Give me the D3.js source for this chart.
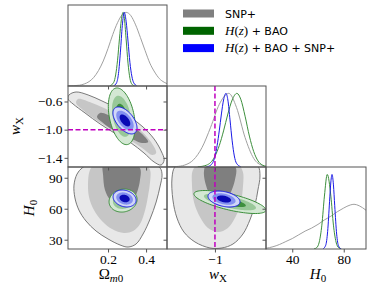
<!DOCTYPE html>
<html>
<head>
<meta charset="utf-8">
<script src="https://cdn.jsdelivr.net/npm/d3@7"></script>
<style>
  body { margin: 0; background: #fff; }
  svg { display: block; }
  .tick text { font-family: "Liberation Serif", "DejaVu Serif", serif; font-size: 13.5px; fill: #000; }
</style>
</head>
<body>
<svg id="chart" width="374" height="291"></svg>
<script>
// tick values
const omegaTicks = [0.2, 0.4];
const wTicks = [-0.6, -1.0, -1.4];
const wBottomTicks = [-1];
const h0Ticks = [30, 60, 90];
const h0BottomTicks = [40, 80];
const wReference = -1;

const legendLabels = ["SNP+", "H(z) + BAO", "H(z) + BAO + SNP+"];
const legendColors = ["#808080", "#006400", "#0000ff"];

// 1D marginals [value, relative density]
const omGray = [[-0.01,0.001],[0.05,0.011],[0.075,0.028],[0.10,0.059],[0.125,0.117],[0.15,0.21],[0.175,0.34],[0.20,0.51],[0.225,0.70],[0.25,0.86],[0.275,0.97],[0.295,1],[0.32,0.955],[0.345,0.83],[0.37,0.66],[0.395,0.48],[0.42,0.31],[0.445,0.19],[0.47,0.10],[0.495,0.051],[0.51,0.032]];
const omGreen = [[0.21,0.003],[0.23,0.05],[0.24,0.15],[0.25,0.35],[0.26,0.64],[0.27,0.90],[0.279,1],[0.285,0.94],[0.295,0.64],[0.305,0.31],[0.315,0.106],[0.325,0.026],[0.34,0.002]];
const omBlue = [[0.23,0.003],[0.245,0.044],[0.255,0.17],[0.265,0.46],[0.275,0.82],[0.285,1],[0.295,0.88],[0.305,0.61],[0.315,0.32],[0.325,0.135],[0.335,0.044],[0.35,0.005]];

const wGray = [[-1.557,0.001],[-1.45,0.006],[-1.35,0.027],[-1.25,0.097],[-1.15,0.265],[-1.05,0.54],[-0.95,0.85],[-0.84,1],[-0.75,0.81],[-0.65,0.40],[-0.55,0.117],[-0.45,0.02],[-0.407,0.008]];
const wGreen = [[-1.2,0.002],[-1.1,0.024],[-1.0,0.146],[-0.95,0.29],[-0.9,0.49],[-0.85,0.72],[-0.8,0.91],[-0.745,1],[-0.7,0.92],[-0.65,0.69],[-0.6,0.42],[-0.55,0.21],[-0.5,0.083],[-0.45,0.027],[-0.4,0.007]];
const wBlue = [[-1.1,0.002],[-1.05,0.024],[-1.0,0.144],[-0.975,0.29],[-0.95,0.49],[-0.925,0.72],[-0.9,0.91],[-0.872,1],[-0.85,0.91],[-0.825,0.64],[-0.8,0.355],[-0.775,0.15],[-0.75,0.051],[-0.7,0.003]];

const h0Gray = [[19.6,0.01],[25,0.03],[30,0.06],[35,0.1],[40,0.14],[45,0.19],[50,0.24],[55,0.28],[60,0.33],[65,0.39],[70,0.44],[75,0.5],[80,0.55],[85,0.59],[88,0.6],[92,0.58],[97.3,0.52]];
const h0Green = [[57,0.002],[59,0.018],[61,0.095],[63,0.32],[65,0.71],[67.2,1],[70,0.71],[72,0.32],[74,0.095],[76,0.018],[78,0.002]];
const h0Blue = [[64,0.003],[66,0.05],[67.5,0.236],[69,0.64],[70,0.9],[70.9,1],[72,0.86],[73,0.58],[74.5,0.2],[76,0.039],[78,0.002]];

// SNP+ 2D regions, outer (99.7%) -> inner (68%)
const omWGray = [
  [[-0.005,-0.507],[0.032,-0.465],[0.095,-0.507],[0.168,-0.592],[0.242,-0.692],[0.316,-0.820],[0.384,-0.962],[0.442,-1.132],[0.479,-1.302],[0.495,-1.430],[0.479,-1.502],[0.442,-1.459],[0.389,-1.331],[0.321,-1.189],[0.242,-1.061],[0.158,-0.919],[0.079,-0.763],[0.016,-0.635],[-0.0105,-0.564]],
  [[0.042,-0.564],[0.116,-0.621],[0.2,-0.720],[0.289,-0.848],[0.368,-1.004],[0.426,-1.175],[0.453,-1.331],[0.432,-1.359],[0.379,-1.260],[0.305,-1.132],[0.221,-1.004],[0.137,-0.862],[0.068,-0.720],[0.032,-0.621]],
  [[0.158,-0.763],[0.237,-0.834],[0.316,-0.933],[0.379,-1.061],[0.411,-1.175],[0.379,-1.189],[0.305,-1.104],[0.226,-1.004],[0.168,-0.891],[0.142,-0.820]]
];
const omHGray = [
  [[0.105,103.3],[0.063,99.4],[0.037,93.6],[0.021,82.9],[0.026,70.4],[0.047,58.7],[0.084,48.1],[0.137,38.4],[0.2,30.7],[0.263,24.9],[0.305,22.9],[0.347,25.8],[0.384,35.5],[0.421,50.0],[0.453,66.5],[0.474,82.0],[0.484,92.6],[0.474,99.4],[0.432,103.3],[0.263,105.2]],
  [[0.132,103.3],[0.105,97.5],[0.095,85.8],[0.1,71.3],[0.126,58.7],[0.168,48.1],[0.221,40.3],[0.284,36.5],[0.332,38.4],[0.368,45.2],[0.395,58.7],[0.411,73.3],[0.421,85.8],[0.421,97.5],[0.395,103.3],[0.263,105.2]],
  [[0.174,102.3],[0.174,92.6],[0.184,78.1],[0.211,68.4],[0.247,62.6],[0.289,61.6],[0.326,66.5],[0.353,76.2],[0.368,87.8],[0.368,99.4],[0.316,105.2],[0.211,105.2]]
];
const wHGray = [
  [[-1.348,104.2],[-1.465,100.4],[-1.499,89.7],[-1.488,68.4],[-1.441,51.0],[-1.360,37.4],[-1.232,27.8],[-1.058,22.0],[-0.919,22.0],[-0.791,25.8],[-0.675,35.5],[-0.594,49.1],[-0.535,63.6],[-0.501,78.1],[-0.477,91.7],[-0.501,101.3],[-0.652,105.2],[-1.0,106.2]],
  [[-1.174,104.2],[-1.256,97.5],[-1.267,82.9],[-1.244,66.5],[-1.174,52.0],[-1.081,41.3],[-0.965,37.4],[-0.849,41.3],[-0.756,52.9],[-0.698,66.5],[-0.675,81.0],[-0.675,95.5],[-0.733,103.3],[-0.942,105.2]],
  [[-1.093,104.2],[-1.128,95.5],[-1.105,82.9],[-1.046,71.3],[-0.965,64.5],[-0.884,66.5],[-0.814,76.2],[-0.768,87.8],[-0.756,99.4],[-0.826,105.2]]
];

// H(z)+BAO and H(z)+BAO+SNP+ 2D: centre, sigmas, correlation
const omWGreen = { center: [0.272, -0.81], sigma: [0.0205, 0.117], rho: -0.35 };
const omWBlue = { center: [0.289, -0.869], sigma: [0.0184, 0.0557], rho: -0.55 };
const omHGreen = { center: [0.279, 67.9], sigma: [0.0214, 3.24], rho: 0.1 };
const omHBlue = { center: [0.287, 69.9], sigma: [0.0176, 2.39], rho: -0.2 };
const wHGreen = { center: [-0.826, 66.5], sigma: [0.1215, 3.24], rho: -0.7 };
const wHBlue = { center: [-0.895, 69.4], sigma: [0.054, 2.25], rho: -0.35 };
const sigmaLevels = [3.44, 2.49, 1.52];

const grayStyle = { fills: ["#e8e8e8", "#c6c6c6", "#7f7f7f"], line: "#7a7a7a", curve: "#a0a0a0" };
const greenStyle = { fills: ["#d3e8d3", "#98c898", "#3d8f3d"], line: "#3d8f3d", curve: "#3d8f3d" };
const blueStyle = { fills: ["#d0d6f8", "#8390f0", "#0a0ab4"], line: "#1a1ae6", curve: "#1a1ae6" };

const svg = d3.select("#chart");
const cols = [68, 167, 266, 366];
const rows = [5, 86, 167, 249];

const xOm = d3.scaleLinear().domain([-0.0105, 0.51]).range([cols[0], cols[1]]);
const xW = d3.scaleLinear().domain([-1.557, -0.407]).range([cols[1], cols[2]]);
const xH = d3.scaleLinear().domain([19.6, 97.3]).range([cols[2], cols[3]]);
const yW = d3.scaleLinear().domain([-1.53, -0.38]).range([rows[2], rows[1]]);
const yH = d3.scaleLinear().domain([21, 100.4]).range([rows[3], rows[2]]);
const yP = r => d3.scaleLinear().domain([0, 1.1]).range([rows[r + 1], rows[r]]);

let clipCount = 0;
function panel(c, r) {
  const id = "clip" + clipCount++;
  svg.append("clipPath").attr("id", id).append("rect")
    .attr("x", cols[c]).attr("y", rows[r])
    .attr("width", cols[c + 1] - cols[c]).attr("height", rows[r + 1] - rows[r]);
  return svg.append("g").attr("clip-path", `url(#${id})`);
}

function ellipse(e, k) {
  const r2 = Math.sqrt(1 - e.rho * e.rho);
  return d3.range(90).map(i => {
    const t = i / 90 * 2 * Math.PI;
    const u = Math.cos(t), v = Math.sin(t);
    return [e.center[0] + k * e.sigma[0] * u,
            e.center[1] + k * e.sigma[1] * (e.rho * u + r2 * v)];
  });
}

function draw2D(g, x, y, shapes, style, curve) {
  const line = d3.line().x(d => x(d[0])).y(d => y(d[1])).curve(curve);
  shapes.forEach((pts, i) => {
    g.append("path").attr("d", line(pts)).attr("fill", style.fills[i]);
  });
  g.append("path").attr("d", line(shapes[0]))
    .attr("fill", "none").attr("stroke", style.line).attr("stroke-width", 1);
}

function draw1D(g, x, y, pts, color) {
  const line = d3.line().x(d => x(d[0])).y(d => y(d[1])).curve(d3.curveMonotoneX);
  g.append("path").attr("d", line(pts))
    .attr("fill", "none").attr("stroke", color).attr("stroke-width", 1);
}

const smooth = d3.curveCatmullRomClosed.alpha(0.5);
const exact = d3.curveLinearClosed;

// 1D panels
const p11 = panel(0, 0);
draw1D(p11, xOm, yP(0), omGray, grayStyle.curve);
draw1D(p11, xOm, yP(0), omGreen, greenStyle.curve);
draw1D(p11, xOm, yP(0), omBlue, blueStyle.curve);

const p22 = panel(1, 1);
draw1D(p22, xW, yP(1), wGray, grayStyle.curve);
draw1D(p22, xW, yP(1), wGreen, greenStyle.curve);
draw1D(p22, xW, yP(1), wBlue, blueStyle.curve);

const p33 = panel(2, 2);
draw1D(p33, xH, yP(2), h0Gray, grayStyle.curve);
draw1D(p33, xH, yP(2), h0Green, greenStyle.curve);
draw1D(p33, xH, yP(2), h0Blue, blueStyle.curve);

// 2D panels
const p21 = panel(0, 1);
draw2D(p21, xOm, yW, omWGray, grayStyle, smooth);
draw2D(p21, xOm, yW, sigmaLevels.map(k => ellipse(omWGreen, k)), greenStyle, exact);
draw2D(p21, xOm, yW, sigmaLevels.map(k => ellipse(omWBlue, k)), blueStyle, exact);

const p31 = panel(0, 2);
draw2D(p31, xOm, yH, omHGray, grayStyle, smooth);
draw2D(p31, xOm, yH, sigmaLevels.map(k => ellipse(omHGreen, k)), greenStyle, exact);
draw2D(p31, xOm, yH, sigmaLevels.map(k => ellipse(omHBlue, k)), blueStyle, exact);

const p32 = panel(1, 2);
draw2D(p32, xW, yH, wHGray, grayStyle, smooth);
draw2D(p32, xW, yH, sigmaLevels.map(k => ellipse(wHGreen, k)), greenStyle, exact);
draw2D(p32, xW, yH, sigmaLevels.map(k => ellipse(wHBlue, k)), blueStyle, exact);

// w = -1 reference lines
const dash = { stroke: "#bf00bf", width: 1.5, dash: "5,2.5" };
p21.append("line").attr("x1", cols[0]).attr("x2", cols[1])
  .attr("y1", yW(wReference)).attr("y2", yW(wReference));
p22.append("line").attr("x1", xW(wReference)).attr("x2", xW(wReference))
  .attr("y1", rows[1]).attr("y2", rows[2]);
p32.append("line").attr("x1", xW(wReference)).attr("x2", xW(wReference))
  .attr("y1", rows[2]).attr("y2", rows[3]);
svg.selectAll("line").attr("stroke", dash.stroke).attr("stroke-width", dash.width)
  .attr("stroke-dasharray", dash.dash);

// frames
[[0, 0], [0, 1], [1, 1], [0, 2], [1, 2], [2, 2]].forEach(([c, r]) => {
  svg.append("rect").attr("x", cols[c]).attr("y", rows[r])
    .attr("width", cols[c + 1] - cols[c]).attr("height", rows[r + 1] - rows[r])
    .attr("fill", "none").attr("stroke", "#555").attr("stroke-width", 1);
});

// axes
function axis(gen, tx, ty, ticks, fmt) {
  const a = svg.append("g").attr("transform", `translate(${tx},${ty})`)
    .call(gen.tickValues(ticks).tickSize(3.5).tickPadding(2).tickFormat(fmt || ""));
  a.select(".domain").remove();
  a.selectAll(".tick line").attr("stroke", "#555").attr("stroke-dasharray", null).attr("stroke-width", 1);
  return a;
}
const f1 = d3.format(".1f"), f0 = d3.format("d");
axis(d3.axisBottom(xOm), 0, rows[1], omegaTicks);
axis(d3.axisBottom(xOm), 0, rows[2], omegaTicks);
axis(d3.axisBottom(xOm), 0, rows[3], omegaTicks, f1);
axis(d3.axisBottom(xW), 0, rows[2], wBottomTicks);
axis(d3.axisBottom(xW), 0, rows[3], wBottomTicks, f0);
axis(d3.axisBottom(xH), 0, rows[3], h0BottomTicks, f0);
axis(d3.axisLeft(yW), cols[0], 0, wTicks, f1);
axis(d3.axisLeft(yW), cols[1], 0, wTicks);
axis(d3.axisLeft(yH), cols[0], 0, h0Ticks, f0);
axis(d3.axisLeft(yH), cols[1], 0, h0Ticks);
axis(d3.axisLeft(yH), cols[2], 0, h0Ticks);

// axis titles
const serif = '"Liberation Serif", "DejaVu Serif", serif';
function title(x, y, rotate, parts) {
  const t = svg.append("text").attr("text-anchor", "middle")
    .attr("font-family", serif).attr("font-size", 15)
    .attr("transform", `translate(${x},${y}) rotate(${rotate})`);
  parts.forEach(p => {
    t.append("tspan").text(p.text)
      .attr("font-style", p.italic ? "italic" : "normal")
      .attr("font-size", p.sub ? 11 : 15)
      .attr("dy", p.dy || 0);
  });
}
title(111, 279, 0, [{ text: "Ω" }, { text: "m", italic: true, sub: true, dy: 3 }, { text: "0", sub: true }]);
title(218, 279, 0, [{ text: "w", italic: true }, { text: "X", sub: true, dy: 3 }]);
title(318, 279, 0, [{ text: "H", italic: true }, { text: "0", sub: true, dy: 3 }]);
title(20, 126, -90, [{ text: "w", italic: true }, { text: "X", sub: true, dy: 3 }]);
title(34, 208, -90, [{ text: "H", italic: true }, { text: "0", sub: true, dy: 3 }]);

// legend
const legend = svg.append("g");
legendLabels.forEach((label, i) => {
  const y = 13.5 + i * 17.3;
  legend.append("rect").attr("x", 183).attr("y", y - 4).attr("width", 31).attr("height", 8)
    .attr("fill", legendColors[i]);
  const t = legend.append("text").attr("x", 225).attr("y", y + 4)
    .attr("font-family", '"DejaVu Sans", sans-serif').attr("font-size", 11);
  const m = label.match(/^H\(z\)(.*)$/);
  if (m) {
    t.append("tspan").text("H").attr("font-family", serif).attr("font-style", "italic").attr("font-size", 13);
    t.append("tspan").text("(").attr("font-family", serif).attr("font-size", 13);
    t.append("tspan").text("z").attr("font-family", serif).attr("font-style", "italic").attr("font-size", 13);
    t.append("tspan").text(")").attr("font-family", serif).attr("font-size", 13);
    t.append("tspan").text(m[1]);
  } else {
    t.text(label);
  }
});
</script>
</body>
</html>
